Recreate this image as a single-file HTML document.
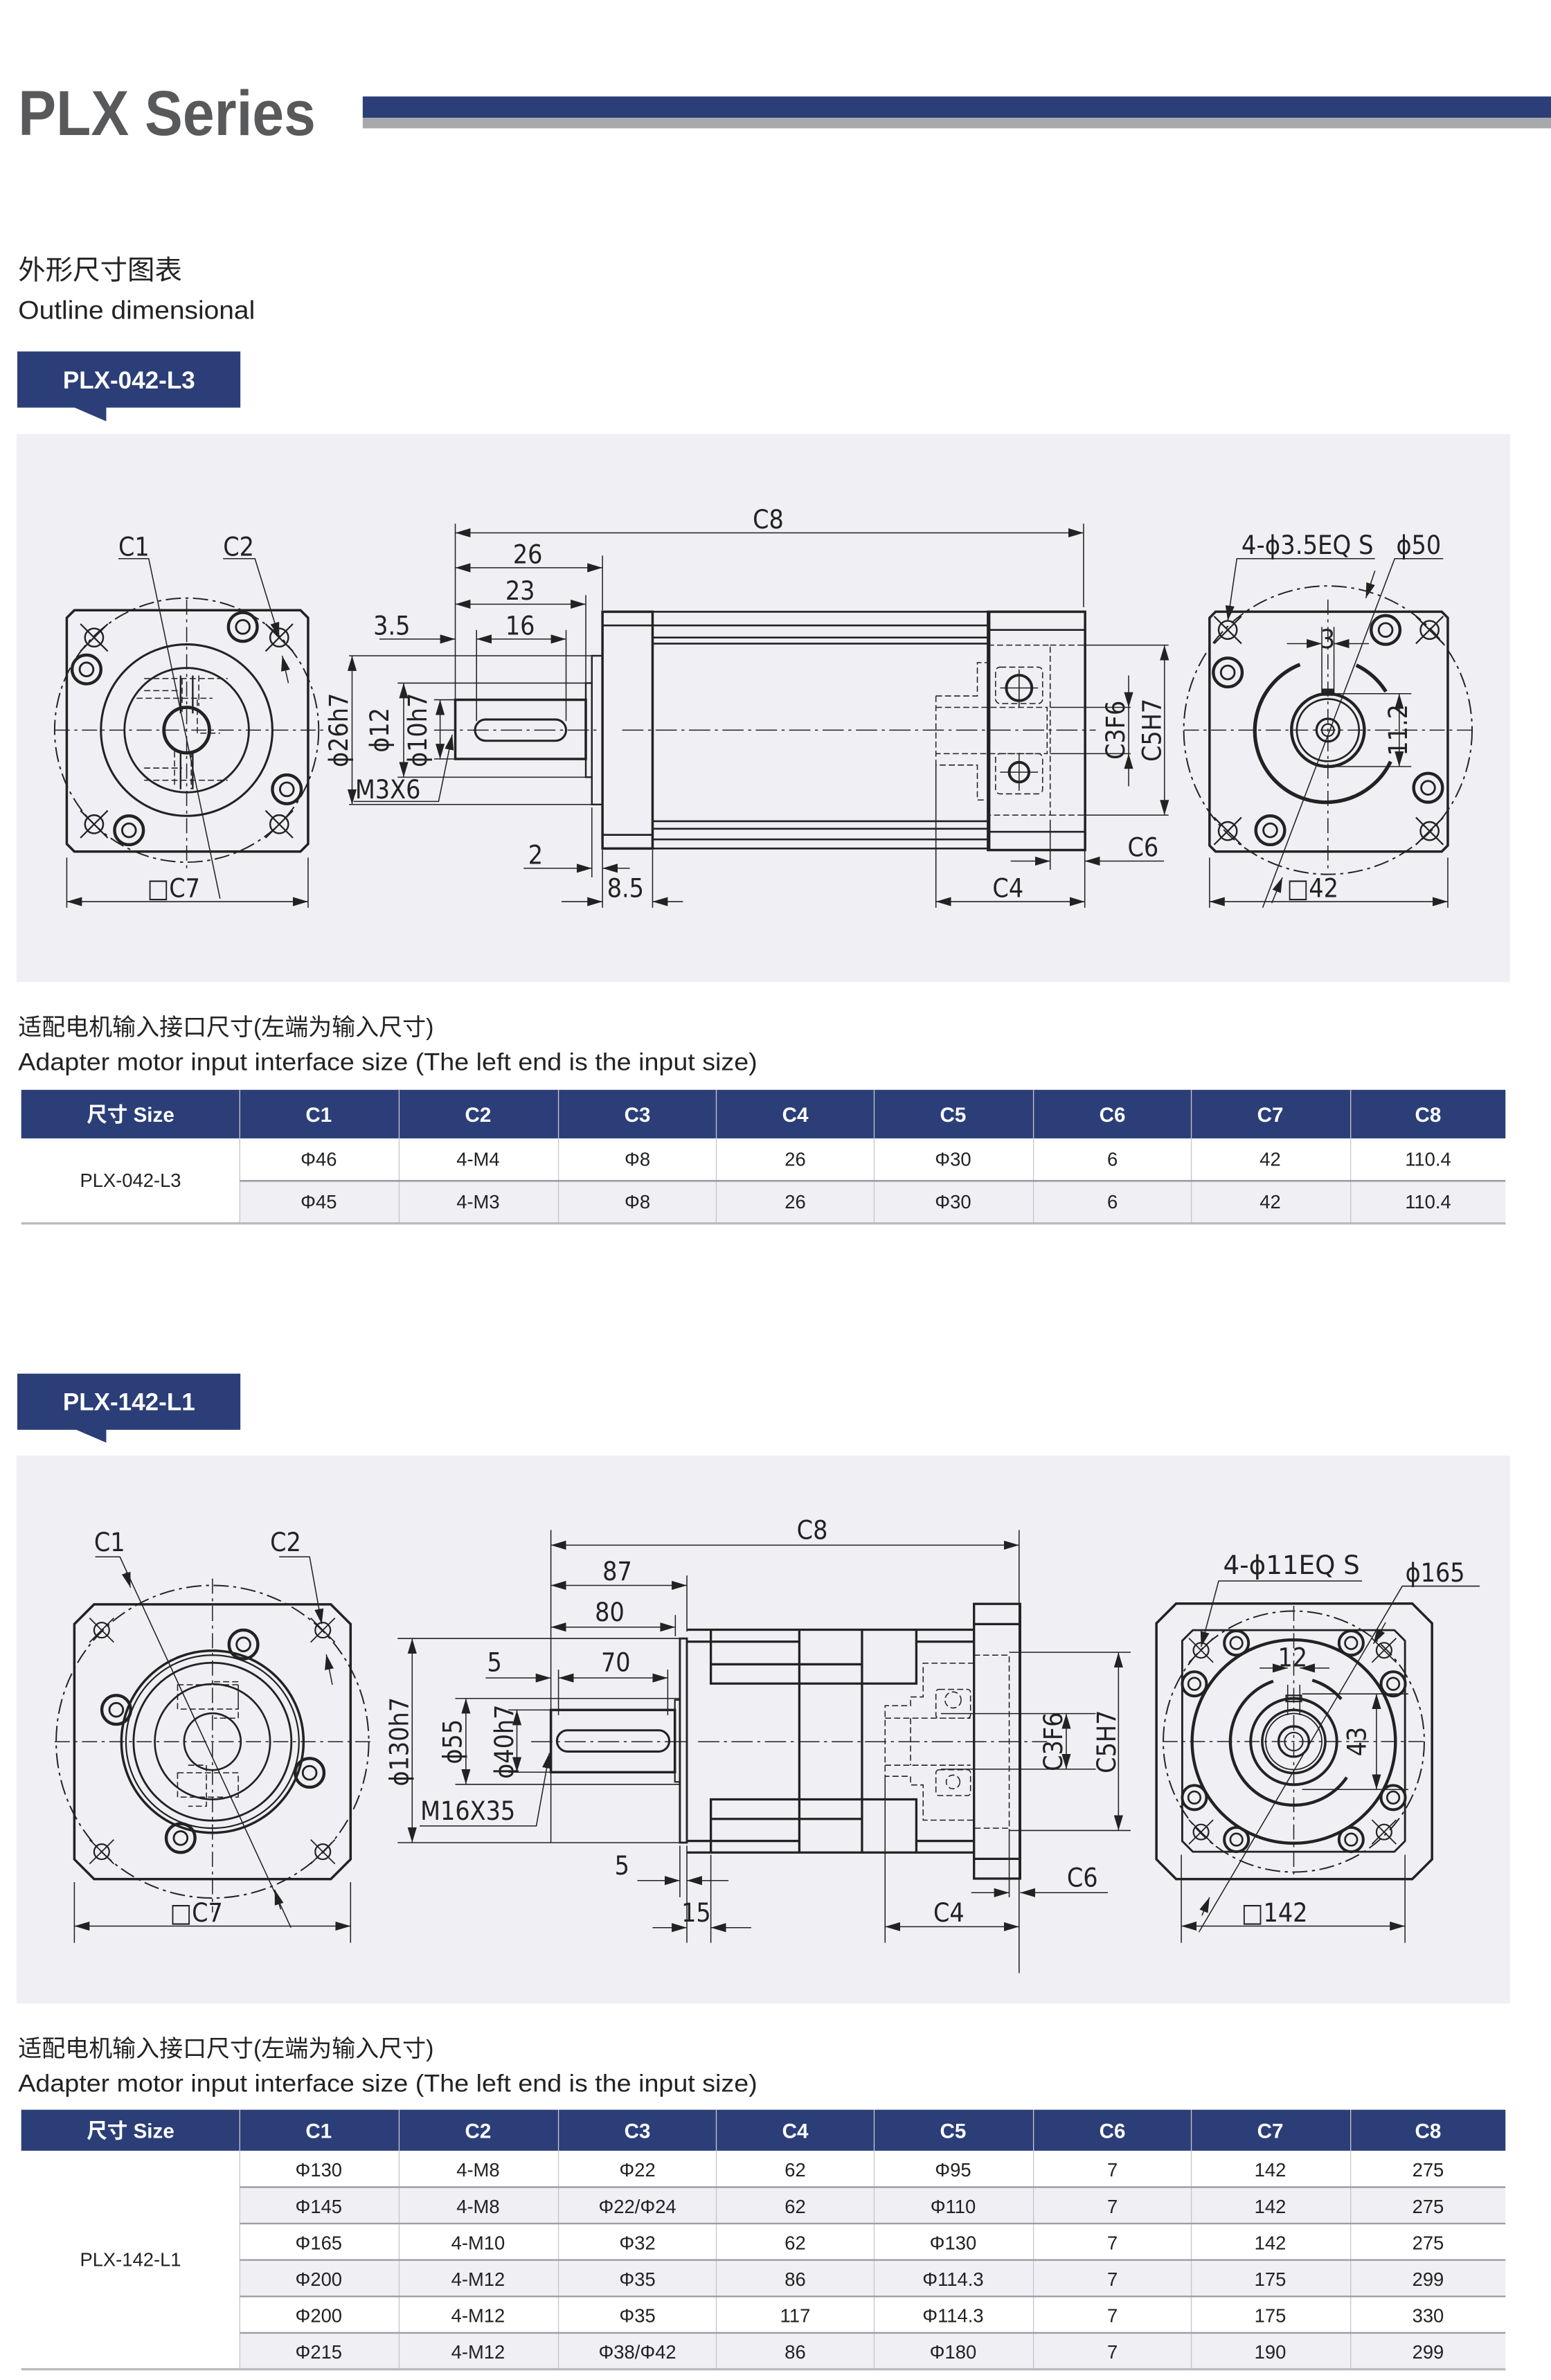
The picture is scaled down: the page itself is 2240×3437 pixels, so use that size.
<!DOCTYPE html>
<html><head><meta charset="utf-8"><style>
html,body{margin:0;padding:0;background:#fff;}
svg{display:block;}
.t{font-family:"DejaVu Sans Condensed","DejaVu Sans",sans-serif;font-size:17px;fill:#222;stroke:none;}
.tb{font-family:"Liberation Sans","Noto Sans CJK SC",sans-serif;font-size:12.5px;fill:#222;stroke:none;text-anchor:middle;}
.th{font-family:"Liberation Sans","Noto Sans CJK SC",sans-serif;font-size:13.5px;font-weight:bold;fill:#fff;stroke:none;text-anchor:middle;}
</style></head><body>
<svg width="2240" height="3437" viewBox="0 0 1022 1568" xmlns="http://www.w3.org/2000/svg">
<defs>
<marker id="a" viewBox="0 0 10 6" refX="10" refY="3" markerWidth="10" markerHeight="6" markerUnits="userSpaceOnUse" orient="auto-start-reverse"><path d="M0,0 L10,3 L0,6 Z" fill="#222"/></marker>
<g id="rh"><circle r="9.5" fill="none" stroke="#222" stroke-width="2"/><circle r="4.5" fill="none" stroke="#222" stroke-width="1.3"/></g>
<g id="xh"><circle r="6" fill="none" stroke="#222" stroke-width="1.1"/><path d="M-9,-9 L9,9 M9,-9 L-9,9" stroke="#222" stroke-width="1"/></g>
<g id="rh2"><circle r="8" fill="none" stroke="#222" stroke-width="1.8"/><circle r="4" fill="none" stroke="#222" stroke-width="1.2"/></g>
<g id="xh2"><circle r="5" fill="none" stroke="#222" stroke-width="1"/><path d="M-8,-8 L8,8 M8,-8 L-8,8" stroke="#222" stroke-width="0.8"/></g>
</defs>
<rect width="1022" height="1568" fill="#fff"/>

<!-- Header -->
<text x="12" y="89" font-family="Liberation Sans,sans-serif" font-weight="bold" font-size="42" fill="#58595b" textLength="196" lengthAdjust="spacingAndGlyphs">PLX Series</text>
<rect x="239" y="63.5" width="783" height="14" fill="#2b3e78"/>
<rect x="239" y="77.5" width="783" height="7" fill="#a8a9ad"/>
<text x="12" y="184" font-family="Liberation Sans,'Noto Sans CJK SC',sans-serif" font-size="18" fill="#222">外形尺寸图表</text>
<text x="12" y="210" font-family="Liberation Sans,sans-serif" font-size="17" fill="#222" textLength="156" lengthAdjust="spacingAndGlyphs">Outline dimensional</text>

<!-- Badge 1 -->
<rect x="11.4" y="231.5" width="147" height="37" fill="#2b3e78"/>
<path d="M48,268 L70,268 L70,277.5 Z" fill="#2b3e78"/>
<text x="85" y="256" font-family="Liberation Sans,sans-serif" font-weight="bold" font-size="16" fill="#fff" text-anchor="middle">PLX-042-L3</text>

<!-- Panel 1 -->
<rect x="11" y="286" width="984" height="361" fill="#efeff4"/>

<g stroke="#222" fill="none" stroke-width="0.7">
<!-- Left view 1 -->
<path d="M49,402 H198 L203,407 V556 L198,561 H49 L44,556 V407 Z" stroke-width="1.6"/>
<circle cx="123" cy="481" r="87" stroke-dasharray="10 3 2 3" stroke-width="0.9"/>
<circle cx="123" cy="481" r="56.5" stroke-width="1.4"/>
<circle cx="123" cy="481" r="41" stroke-width="1.3"/>
<circle cx="123" cy="481" r="15" stroke-width="2.2"/>
<path d="M36,481 H215 M123,395 V572" stroke-dasharray="10 3 2 3"/>
<path d="M95,447 H150 M95,455 H120 M120,447 V470 M131,445 V465 M95,514 H150 M95,506 H120 M126,495 V520 M115,495 V517 M90,460 H140 M130,461 V483 H145" stroke-dasharray="4 2"/>
<path d="M119,445 V470 M127,445 V470 M119,495 V520 M127,495 V520" stroke-width="1.1"/>
<use href="#xh" x="62" y="420"/><use href="#xh" x="184" y="420"/><use href="#xh" x="62" y="543"/><use href="#xh" x="184" y="543"/>
<use href="#rh" x="160" y="413"/><use href="#rh" x="57" y="441"/><use href="#rh" x="189" y="520"/><use href="#rh" x="85" y="547"/>
<path d="M78,368 H98 L145,592"/>
<path d="M147,368 H168 L184,420" marker-end="url(#a)"/>
<path d="M190,450 L186,432" marker-end="url(#a)"/>
<path d="M44,565 V598 M203,565 V598"/>
<path d="M44,594 H203" marker-start="url(#a)" marker-end="url(#a)"/>

<!-- Middle view 1 -->
<path d="M300,345 V495 M714,345 V400"/>
<path d="M300,351 H714" marker-start="url(#a)" marker-end="url(#a)"/>
<path d="M397,366 V402 M386,392 V450"/>
<path d="M300,374 H397" marker-start="url(#a)" marker-end="url(#a)"/>
<path d="M300,398 H386" marker-start="url(#a)" marker-end="url(#a)"/>
<path d="M250,421 H300" marker-end="url(#a)"/>
<path d="M314,421 H373" marker-start="url(#a)" marker-end="url(#a)"/>
<path d="M314,415 V475 M373,415 V475"/>
<rect x="397" y="403" width="33" height="156" stroke-width="1.6"/>
<path d="M430,403 H652 V559 H430 M430,412 H652 M430,420 H652 M430,424 H652 M430,541 H652 M430,546 H652 M430,553 H652 M397,412 H430 M397,550 H430" stroke-width="1.2"/>
<rect x="651" y="403" width="64" height="157" stroke-width="1.6"/>
<path d="M651,415 H715 M651,548 H715" stroke-width="1.2"/>
<rect x="390" y="432" width="7" height="98" stroke-width="1.1"/>
<rect x="386" y="450" width="4" height="62" stroke-width="1.1"/>
<rect x="300" y="461" width="86" height="39" stroke-width="1.6"/>
<rect x="313" y="474" width="60" height="14" rx="7" stroke-width="1.4"/>
<path d="M286,481 H395 M410,481 H722" stroke-dasharray="14 3 2 3"/>
<path d="M230,432 H390 M230,530 H390 M262,450 H386 M262,512 H386 M286,461 H300 M286,500 H300"/>
<path d="M232,432 V530" marker-start="url(#a)" marker-end="url(#a)"/>
<path d="M266,450 V512" marker-start="url(#a)" marker-end="url(#a)"/>
<path d="M290,461 V500" marker-start="url(#a)" marker-end="url(#a)"/>
<path d="M233,528 H289 L298,484" marker-end="url(#a)"/>
<path d="M397,560 V598 M390,532 V578 M430,560 V598"/>
<path d="M345,572 H390" marker-end="url(#a)"/>
<path d="M415,572 H397" marker-end="url(#a)"/>
<path d="M370,594 H397" marker-end="url(#a)"/>
<path d="M450,594 H430" marker-end="url(#a)"/>
<g stroke-dasharray="4 2">
<path d="M651,425 H692 V537 H651 M692,425 H714 M692,537 H714"/>
<rect x="656" y="439.5" width="31" height="24" rx="3"/>
<rect x="656" y="496.5" width="31" height="26.5" rx="3"/>
<path d="M616.7,458.5 H644 V436.5 H651 M616.7,458.5 V504 H644 V527 H651 M616.7,466 H690 V496.5 H616.7"/>
</g>
<circle cx="671.5" cy="453.2" r="8.4" stroke-width="1.8"/>
<circle cx="671.5" cy="508.7" r="6.5" stroke-width="1.8"/>
<path d="M659,453.2 H684 M671.5,441 V466 M659,508.7 H684 M671.5,496 V521"/>
<path d="M692,466 H745 M692,496.5 H745 M714,425 H770 M714,537 H770"/>
<path d="M743.7,445 V466" marker-end="url(#a)"/>
<path d="M743.7,518 V496.5" marker-end="url(#a)"/>
<path d="M743.7,466 V496.5"/>
<path d="M767.3,425 V537" marker-start="url(#a)" marker-end="url(#a)"/>
<path d="M616.7,504 V598 M692,540 V573 M714.8,560 V598"/>
<path d="M666,567.3 H692" marker-end="url(#a)"/>
<path d="M767,567.3 H714.8" marker-end="url(#a)"/>
<path d="M616.7,594 H714.8" marker-start="url(#a)" marker-end="url(#a)"/>

<!-- Right view 1 -->
<path d="M801,403 H950 L954,407 V557 L950,561 H801 L797,557 V407 Z" stroke-width="1.6"/>
<circle cx="875" cy="481" r="95" stroke-dasharray="10 3 2 3" stroke-width="0.9"/>
<path d="M780,481 H970 M875,395 V572" stroke-dasharray="10 3 2 3"/>
<path d="M856.6,437.8 A47,47 0 1 0 916.3,501.7" stroke-width="2.4"/>
<path d="M893.7,438.2 A47,47 0 0 1 913.2,455.6" stroke-width="2.4"/>
<circle cx="875" cy="481" r="24" stroke-width="2"/>
<circle cx="875" cy="481" r="20.5" stroke-width="1.2"/>
<circle cx="875" cy="481" r="7.5" stroke-width="1.5"/>
<circle cx="875" cy="481" r="4" stroke-width="1"/>
<rect x="871.5" y="454" width="7" height="4" fill="#222"/>
<use href="#xh" x="809" y="415"/><use href="#xh" x="942" y="415"/><use href="#xh" x="809" y="547.5"/><use href="#xh" x="942" y="547.5"/>
<use href="#rh" x="913" y="415"/><use href="#rh" x="809" y="443"/><use href="#rh" x="941" y="519"/><use href="#rh" x="837" y="547"/>
<path d="M906,368 H815 L809,409" marker-end="url(#a)"/>
<path d="M951,368 H919 L832,598"/>
<path d="M906,376 L900,394" marker-end="url(#a)"/>
<path d="M845,578 L838,595" marker-start="url(#a)"/>
<path d="M871,413 V458 M879,413 V458"/>
<path d="M848,424 H871" marker-end="url(#a)"/>
<path d="M902,424 H879" marker-end="url(#a)"/>
<path d="M879,457 H930 M879,505 H930"/>
<path d="M922,457 V505" marker-start="url(#a)" marker-end="url(#a)"/>
<path d="M797,565 V598 M954,565 V598"/>
<path d="M797,594 H954" marker-start="url(#a)" marker-end="url(#a)"/>
</g>
<g class="t">
<text x="78" y="366">C1</text><text x="147" y="366">C2</text>
<text x="97" y="591">□C7</text>
<text x="496" y="348">C8</text>
<text x="338" y="371">26</text><text x="333" y="395">23</text>
<text x="246" y="418">3.5</text><text x="333" y="418">16</text>
<text x="234" y="526">M3X6</text>
<text x="348" y="569">2</text><text x="400" y="591">8.5</text>
<text x="654" y="591">C4</text><text x="743" y="564">C6</text>
<text transform="translate(229,481) rotate(-90)" text-anchor="middle">ϕ26h7</text>
<text transform="translate(256,481) rotate(-90)" text-anchor="middle">ϕ12</text>
<text transform="translate(281,481) rotate(-90)" text-anchor="middle">ϕ10h7</text>
<text transform="translate(741,481) rotate(-90)" text-anchor="middle">C3F6</text>
<text transform="translate(765,481) rotate(-90)" text-anchor="middle">C5H7</text>
<text x="818" y="365" textLength="87" lengthAdjust="spacingAndGlyphs">4-ϕ3.5EQ S</text>
<text x="920" y="365">ϕ50</text>
<text x="870" y="427">3</text>
<text transform="translate(927,481) rotate(-90)" text-anchor="middle">11.2</text>
<text x="848" y="591">□42</text>
</g>

<!-- Subtitle 1 -->
<text x="12" y="682" font-family="Liberation Sans,'Noto Sans CJK SC',sans-serif" font-size="15.5" fill="#222">适配电机输入接口尺寸(左端为输入尺寸)</text>
<text x="12" y="705" font-family="Liberation Sans,sans-serif" font-size="16" fill="#222" textLength="487" lengthAdjust="spacingAndGlyphs">Adapter motor input interface size (The left end is the input size)</text>

<!-- Table 1 -->
<rect x="14" y="718" width="978" height="32" fill="#2b3e78"/>
<rect x="158" y="778" width="834" height="28" fill="#efeff4"/>
<g stroke="#c5c6cc" stroke-width="0.6">
<path d="M158,718 V806 M263,718 V806 M368,718 V806 M472,718 V806 M576,718 V806 M681,718 V806 M785,718 V806 M890,718 V806"/>
</g>
<path d="M158,778 H992" stroke="#9d9ea3" stroke-width="1.2"/>
<path d="M14,806 H992" stroke="#b8b9be" stroke-width="1.5"/>
<g class="th"><text x="86" y="739">尺寸 Size</text><text x="210" y="739">C1</text><text x="315" y="739">C2</text><text x="420" y="739">C3</text><text x="524" y="739">C4</text><text x="628" y="739">C5</text><text x="733" y="739">C6</text><text x="837" y="739">C7</text><text x="941" y="739">C8</text></g>
<g class="tb">
<text x="86" y="782">PLX-042-L3</text>
<text x="210" y="768">Φ46</text><text x="315" y="768">4-M4</text><text x="420" y="768">Φ8</text><text x="524" y="768">26</text><text x="628" y="768">Φ30</text><text x="733" y="768">6</text><text x="837" y="768">42</text><text x="941" y="768">110.4</text>
<text x="210" y="796">Φ45</text><text x="315" y="796">4-M3</text><text x="420" y="796">Φ8</text><text x="524" y="796">26</text><text x="628" y="796">Φ30</text><text x="733" y="796">6</text><text x="837" y="796">42</text><text x="941" y="796">110.4</text>
</g>

<!-- Badge 2 -->
<rect x="11.4" y="905" width="147" height="37" fill="#2b3e78"/>
<path d="M48,941 L70,941 L70,950.5 Z" fill="#2b3e78"/>
<text x="85" y="929" font-family="Liberation Sans,sans-serif" font-weight="bold" font-size="16" fill="#fff" text-anchor="middle">PLX-142-L1</text>

<!-- Panel 2 -->
<rect x="11" y="959" width="984" height="361" fill="#efeff4"/>

<g stroke="#222" fill="none" stroke-width="0.7">
<!-- Left view 2 -->
<path d="M62,1057 H218 L231,1070 V1225 L218,1238 H62 L49,1225 V1070 Z" stroke-width="1.6"/>
<circle cx="140" cy="1147.5" r="103" stroke-dasharray="10 3 2 3" stroke-width="0.9"/>
<path d="M36,1147.5 H245 M140,1040 V1260" stroke-dasharray="10 3 2 3"/>
<circle cx="140" cy="1147.5" r="60" stroke-width="1.6"/>
<circle cx="140" cy="1147.5" r="57" stroke-width="1"/>
<circle cx="140" cy="1147.5" r="52" stroke-width="1.3"/>
<circle cx="140" cy="1147.5" r="38" stroke-width="1.2"/>
<circle cx="140" cy="1147.5" r="18.7" stroke-width="1.2"/>
<g stroke-dasharray="4 2"><path d="M117,1110 H157 V1126 H117 Z M141,1108 H157 V1132 H141 M117,1168 H157 V1184 H117 Z M124,1163 H136 V1190 H124"/></g>
<use href="#xh2" x="67" y="1074"/><use href="#xh2" x="212.7" y="1074"/><use href="#xh2" x="67" y="1220"/><use href="#xh2" x="212.7" y="1220"/>
<use href="#rh" x="160.4" y="1083.4"/><use href="#rh" x="76.6" y="1126.5"/><use href="#rh" x="204" y="1168"/><use href="#rh" x="119" y="1211"/>
<path d="M62.8,1025.7 H79 L191.7,1270"/>
<path d="M83,1036 L86,1046" marker-end="url(#a)"/>
<path d="M184,1025.7 H204 L212,1070" marker-end="url(#a)"/>
<path d="M219,1110 L215,1090" marker-end="url(#a)"/>
<path d="M181,1245 L185,1258" marker-start="url(#a)"/>
<path d="M49,1240 V1280 M231,1240 V1280"/>
<path d="M49,1269 H231" marker-start="url(#a)" marker-end="url(#a)"/>

<!-- Middle view 2 -->
<path d="M363,1008 V1214 M671.5,1008 V1300 M452.6,1038 V1075 M445,1064 V1078"/>
<path d="M363,1018 H671.5" marker-start="url(#a)" marker-end="url(#a)"/>
<path d="M363,1044.5 H452.6" marker-start="url(#a)" marker-end="url(#a)"/>
<path d="M363,1072 H445" marker-start="url(#a)" marker-end="url(#a)"/>
<path d="M320,1105.5 H363" marker-end="url(#a)"/>
<path d="M368,1105.5 H440" marker-start="url(#a)" marker-end="url(#a)"/>
<path d="M368,1100 V1130 M440,1100 V1130"/>
<rect x="448" y="1079.5" width="4.6" height="134.5" stroke-width="1.3"/>
<rect x="363" y="1126.6" width="81.7" height="41" stroke-width="1.6"/>
<rect x="444.7" y="1120" width="3.3" height="54" stroke-width="1"/>
<rect x="367" y="1140" width="74" height="14" rx="7" stroke-width="1.4"/>
<g stroke-width="1.5">
<path d="M452.6,1073.7 H641.8 M452.6,1220.5 H641.8 M452.6,1081.6 H526.7 M603.8,1081.6 H641.8 M452.6,1212.9 H526.7 M603.8,1212.9 H641.8"/>
<path d="M468.4,1073.7 V1109.2 H603.8 V1073.7 M468.4,1096.5 H568 M526.7,1073.7 V1220.5 M568,1073.7 V1220.5"/>
<path d="M468.4,1220.5 V1185.5 H603.8 V1220.5 M468.4,1198.4 H568"/>
<rect x="641.8" y="1056.7" width="30.4" height="181"/>
<path d="M641.8,1070 H672.2 M641.8,1224.7 H672.2"/>
</g>
<path d="M350,1147.5 H452 M460,1147.5 H690" stroke-dasharray="14 3 2 3"/>
<g stroke-dasharray="4 2">
<path d="M641.8,1090.5 H665 V1204.5 H641.8"/>
<path d="M641.8,1095.8 H608.3 V1118 H600 V1123.8 H583.2 V1170.3 H600 V1176 H608.3 V1199.2 H641.8"/>
<path d="M583.2,1132 H639.5 M583.2,1163 H639.5 M600,1132 V1163"/>
<rect x="616.7" y="1113" width="22.8" height="19" rx="2"/>
<rect x="616.7" y="1166" width="22.8" height="17" rx="2"/>
<circle cx="628" cy="1120" r="5.3"/><circle cx="628" cy="1174" r="4.5"/>
</g>
<path d="M262,1079.5 H448 M262,1214 H448 M300,1119 H448 M300,1175.6 H448 M335,1126.6 H363 M335,1167.6 H363"/>
<path d="M271.6,1079.5 V1214" marker-start="url(#a)" marker-end="url(#a)"/>
<path d="M307,1119 V1175.6" marker-start="url(#a)" marker-end="url(#a)"/>
<path d="M340.6,1126.6 V1167.6" marker-start="url(#a)" marker-end="url(#a)"/>
<path d="M276.5,1203 H353.4 L362,1155" marker-end="url(#a)"/>
<path d="M448,1216 V1250 M452.6,1216 V1280 M468.4,1222 V1280"/>
<path d="M420,1239 H448" marker-end="url(#a)"/>
<path d="M480,1239 H452.6" marker-end="url(#a)"/>
<path d="M430,1270 H452.6" marker-end="url(#a)"/>
<path d="M495,1270 H468.4" marker-end="url(#a)"/>
<path d="M583.2,1170 V1280 M665,1205 V1250"/>
<path d="M583.2,1269.4 H671.5" marker-start="url(#a)" marker-end="url(#a)"/>
<path d="M640,1247 H665" marker-end="url(#a)"/>
<path d="M730,1247 H672.2" marker-end="url(#a)"/>
<path d="M620,1129 H722 M620,1165.6 H722 M665,1088.6 H745 M665,1206 H745"/>
<path d="M702.6,1129 V1165.6" marker-start="url(#a)" marker-end="url(#a)"/>
<path d="M737,1088.6 V1206" marker-start="url(#a)" marker-end="url(#a)"/>

<!-- Right view 2 -->
<path d="M775,1056.5 H930.6 L943.6,1069.5 V1225 L930.6,1238 H775 L762,1225 V1069.5 Z" stroke-width="1.6"/>
<path d="M786,1074 H918.8 L925.8,1081 V1213 L918.8,1220 H786 L779,1213 V1081 Z" stroke-width="1.3"/>
<circle cx="852.5" cy="1147.4" r="86" stroke-dasharray="10 3 2 3" stroke-width="0.9"/>
<path d="M766,1147.4 H940 M852.5,1058 V1238" stroke-dasharray="10 3 2 3"/>
<circle cx="852.5" cy="1147.4" r="67" stroke-width="2"/>
<path d="M839,1107.6 A42,42 0 1 0 887.4,1171" stroke-width="2"/>
<path d="M864.7,1107 A42,42 0 0 1 883.8,1119.4" stroke-width="2"/>
<circle cx="852.5" cy="1147.4" r="28.4" stroke-width="1.8"/>
<circle cx="852.5" cy="1147.4" r="20.8" stroke-width="1.6"/>
<circle cx="852.5" cy="1147.4" r="18.5" stroke-width="0.8"/>
<circle cx="852.5" cy="1147.4" r="10" stroke-width="1.5"/>
<circle cx="852.5" cy="1147.4" r="6" stroke-width="0.9"/>
<rect x="847.5" y="1117" width="10" height="4" stroke-width="1"/>
<use href="#xh2" x="791.4" y="1087.3"/><use href="#xh2" x="912" y="1087.3"/><use href="#xh2" x="791.4" y="1207"/><use href="#xh2" x="912" y="1207"/>
<use href="#rh2" x="814.7" y="1082.5"/><use href="#rh2" x="890.3" y="1082.5"/><use href="#rh2" x="787" y="1109.4"/><use href="#rh2" x="918" y="1109.4"/>
<use href="#rh2" x="787" y="1184.3"/><use href="#rh2" x="918" y="1184.3"/><use href="#rh2" x="814.7" y="1212"/><use href="#rh2" x="890.3" y="1212"/>
<path d="M897.5,1041.6 H803 L791.4,1085" marker-end="url(#a)"/>
<path d="M975,1045 H924 L790,1273"/>
<path d="M913,1069 L905,1083" marker-end="url(#a)"/>
<path d="M797,1250 L792,1262" marker-start="url(#a)"/>
<path d="M848.5,1110 V1130 M856.5,1110 V1130"/>
<path d="M830,1099 H848.5" marker-end="url(#a)"/>
<path d="M876,1099 H856.5" marker-end="url(#a)"/>
<path d="M858,1116 H928 M858,1179 H928"/>
<path d="M907,1116 V1179" marker-start="url(#a)" marker-end="url(#a)"/>
<path d="M778.4,1222 V1280 M925.8,1222 V1280"/>
<path d="M778.4,1269 H925.8" marker-start="url(#a)" marker-end="url(#a)"/>
</g>
<g class="t">
<text x="62" y="1022">C1</text><text x="178" y="1022">C2</text>
<text x="112" y="1266">□C7</text>
<text x="525" y="1014">C8</text>
<text x="397" y="1041">87</text><text x="392" y="1068">80</text>
<text x="321" y="1101">5</text><text x="396" y="1101">70</text>
<text x="277" y="1199">M16X35</text>
<text x="405" y="1235">5</text><text x="449" y="1266">15</text>
<text x="615" y="1266">C4</text><text x="703" y="1243">C6</text>
<text transform="translate(269,1147.5) rotate(-90)" text-anchor="middle">ϕ130h7</text>
<text transform="translate(304,1147.5) rotate(-90)" text-anchor="middle">ϕ55</text>
<text transform="translate(338,1147.5) rotate(-90)" text-anchor="middle">ϕ40h7</text>
<text transform="translate(700,1147.5) rotate(-90)" text-anchor="middle">C3F6</text>
<text transform="translate(735,1147.5) rotate(-90)" text-anchor="middle">C5H7</text>
<text x="806" y="1037" textLength="90" lengthAdjust="spacingAndGlyphs">4-ϕ11EQ S</text>
<text x="926" y="1042">ϕ165</text>
<text x="842" y="1098">12</text>
<text transform="translate(900,1147.4) rotate(-90)" text-anchor="middle">43</text>
<text x="818" y="1266">□142</text>
</g>

<!-- Subtitle 2 -->
<text x="12" y="1355" font-family="Liberation Sans,'Noto Sans CJK SC',sans-serif" font-size="15.5" fill="#222">适配电机输入接口尺寸(左端为输入尺寸)</text>
<text x="12" y="1378" font-family="Liberation Sans,sans-serif" font-size="16" fill="#222" textLength="487" lengthAdjust="spacingAndGlyphs">Adapter motor input interface size (The left end is the input size)</text>

<!-- Table 2 -->
<rect x="14" y="1390" width="978" height="27" fill="#2b3e78"/>
<rect x="158" y="1441" width="834" height="24" fill="#efeff4"/>
<rect x="158" y="1489" width="834" height="24" fill="#efeff4"/>
<rect x="158" y="1537" width="834" height="24" fill="#efeff4"/>
<g stroke="#c5c6cc" stroke-width="0.6">
<path d="M158,1390 V1561 M263,1390 V1561 M368,1390 V1561 M472,1390 V1561 M576,1390 V1561 M681,1390 V1561 M785,1390 V1561 M890,1390 V1561"/>
</g>
<path d="M158,1441 H992 M158,1465 H992 M158,1489 H992 M158,1513 H992 M158,1537 H992" stroke="#9d9ea3" stroke-width="1.1"/>
<path d="M14,1561 H992" stroke="#b8b9be" stroke-width="1.5"/>
<g class="th"><text x="86" y="1408.5">尺寸 Size</text><text x="210" y="1408.5">C1</text><text x="315" y="1408.5">C2</text><text x="420" y="1408.5">C3</text><text x="524" y="1408.5">C4</text><text x="628" y="1408.5">C5</text><text x="733" y="1408.5">C6</text><text x="837" y="1408.5">C7</text><text x="941" y="1408.5">C8</text></g>
<g class="tb">
<text x="86" y="1493">PLX-142-L1</text>
<text x="210" y="1434">Φ130</text><text x="315" y="1434">4-M8</text><text x="420" y="1434">Φ22</text><text x="524" y="1434">62</text><text x="628" y="1434">Φ95</text><text x="733" y="1434">7</text><text x="837" y="1434">142</text><text x="941" y="1434">275</text>
<text x="210" y="1458">Φ145</text><text x="315" y="1458">4-M8</text><text x="420" y="1458">Φ22/Φ24</text><text x="524" y="1458">62</text><text x="628" y="1458">Φ110</text><text x="733" y="1458">7</text><text x="837" y="1458">142</text><text x="941" y="1458">275</text>
<text x="210" y="1482">Φ165</text><text x="315" y="1482">4-M10</text><text x="420" y="1482">Φ32</text><text x="524" y="1482">62</text><text x="628" y="1482">Φ130</text><text x="733" y="1482">7</text><text x="837" y="1482">142</text><text x="941" y="1482">275</text>
<text x="210" y="1506">Φ200</text><text x="315" y="1506">4-M12</text><text x="420" y="1506">Φ35</text><text x="524" y="1506">86</text><text x="628" y="1506">Φ114.3</text><text x="733" y="1506">7</text><text x="837" y="1506">175</text><text x="941" y="1506">299</text>
<text x="210" y="1530">Φ200</text><text x="315" y="1530">4-M12</text><text x="420" y="1530">Φ35</text><text x="524" y="1530">117</text><text x="628" y="1530">Φ114.3</text><text x="733" y="1530">7</text><text x="837" y="1530">175</text><text x="941" y="1530">330</text>
<text x="210" y="1554">Φ215</text><text x="315" y="1554">4-M12</text><text x="420" y="1554">Φ38/Φ42</text><text x="524" y="1554">86</text><text x="628" y="1554">Φ180</text><text x="733" y="1554">7</text><text x="837" y="1554">190</text><text x="941" y="1554">299</text>
</g>
</svg>
</body></html>
